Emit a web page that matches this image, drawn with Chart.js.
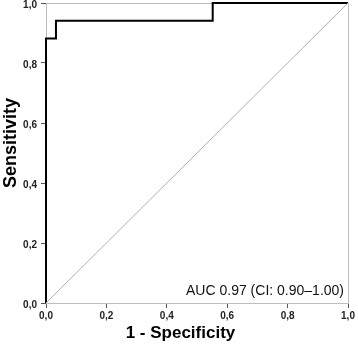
<!DOCTYPE html>
<html>
<head>
<meta charset="utf-8">
<script src="https://cdn.jsdelivr.net/npm/chart.js@4"></script>
<style>
  body { margin: 0; background: #fff; }
  canvas { display: block; }
</style>
</head>
<body>
<canvas id="rocCanvas" width="358" height="347"></canvas>
<script>
// ROC curve points (1 - specificity, sensitivity)
const fpr = [0, 0, 0.033, 0.033, 0.552, 0.552, 1];
const tpr = [0, 0.882, 0.882, 0.941, 0.941, 1, 1];
// reference line
const refX = [0, 1];
const refY = [0, 1];
const tickLabels = ["0,0", "0,2", "0,4", "0,6", "0,8", "1,0"];
const aucText = "AUC 0.97 (CI: 0.90\u20131.00)";

const fontFam = "'Liberation Sans', Arial, sans-serif";
const axisGray = "#bdbdbd";
const tickGray = "#555";

function toPts(xs, ys) {
  return xs.map((x, i) => ({ x: x, y: ys[i] }));
}

// text label inside the plot, bottom right
const aucLabel = {
  id: "aucLabel",
  afterDatasetsDraw(chart) {
    const ctx = chart.ctx;
    const area = chart.chartArea;
    ctx.save();
    ctx.font = "14px " + fontFam;
    ctx.fillStyle = "#111";
    ctx.textAlign = "right";
    ctx.textBaseline = "middle";
    ctx.fillText(aucText, area.right - 4, area.bottom - 12);
    ctx.restore();
  },
};

function noPad(scale) {
  scale.paddingTop = 0;
  scale.paddingBottom = 0;
  scale.paddingLeft = 0;
  scale.paddingRight = 0;
}

const tickOpts = {
  stepSize: 0.2,
  color: "#222",
  font: { family: fontFam, size: 10, weight: "bold" },
  callback: (v, i) => tickLabels[i],
};

var chart = new Chart(document.getElementById("rocCanvas"), {
  type: "scatter",
  data: {
    datasets: [
      {
        data: toPts(refX, refY),
        showLine: true,
        borderColor: "#b0b0b0",
        borderWidth: 1,
        pointRadius: 0,
      },
      {
        data: toPts(fpr, tpr),
        showLine: true,
        borderColor: "#000",
        borderWidth: 2,
        pointRadius: 0,
        clip: false,
      },
    ],
  },
  options: {
    responsive: false,
    animation: false,
    layout: { padding: { top: 3, right: 10, bottom: 3, left: 0 } },
    plugins: { legend: { display: false }, tooltip: { enabled: false } },
    scales: {
      x: {
        type: "linear",
        position: "bottom",
        min: 0,
        max: 1,
        ticks: Object.assign({ padding: 2, maxRotation: 0 }, tickOpts),
        grid: { drawOnChartArea: false, tickLength: 5, tickColor: tickGray },
        border: { color: axisGray },
        title: {
          display: true,
          text: "1 - Specificity\u00a0\u00a0\u00a0\u00a0\u00a0\u00a0\u00a0",
          color: "#000",
          font: { family: fontFam, size: 17, weight: "bold" },
          padding: { top: 0, bottom: 0 },
        },
        afterFit(scale) {
          scale.height = 41;
          noPad(scale);
        },
      },
      y: {
        type: "linear",
        position: "left",
        min: 0,
        max: 1,
        ticks: Object.assign({ padding: 4, labelOffset: 2 }, tickOpts),
        grid: { drawOnChartArea: false, tickLength: 5, tickColor: tickGray },
        border: { color: axisGray },
        title: {
          display: true,
          text: "\u00a0\u00a0\u00a0\u00a0Sensitivity",
          color: "#000",
          font: { family: fontFam, size: 18, weight: "bold" },
          padding: { top: 0, bottom: 0 },
        },
        afterFit(scale) {
          scale.width = 46;
          noPad(scale);
        },
      },
      x2: {
        type: "linear",
        position: "top",
        min: 0,
        max: 1,
        ticks: { display: false },
        grid: { display: false },
        border: { color: axisGray },
        afterFit(scale) {
          scale.height = 0;
          noPad(scale);
        },
      },
      y2: {
        type: "linear",
        position: "right",
        min: 0,
        max: 1,
        ticks: { display: false },
        grid: { display: false },
        border: { color: axisGray },
        afterFit(scale) {
          scale.width = 0;
          noPad(scale);
        },
      },
    },
  },
  plugins: [aucLabel],
});
</script>
</body>
</html>
